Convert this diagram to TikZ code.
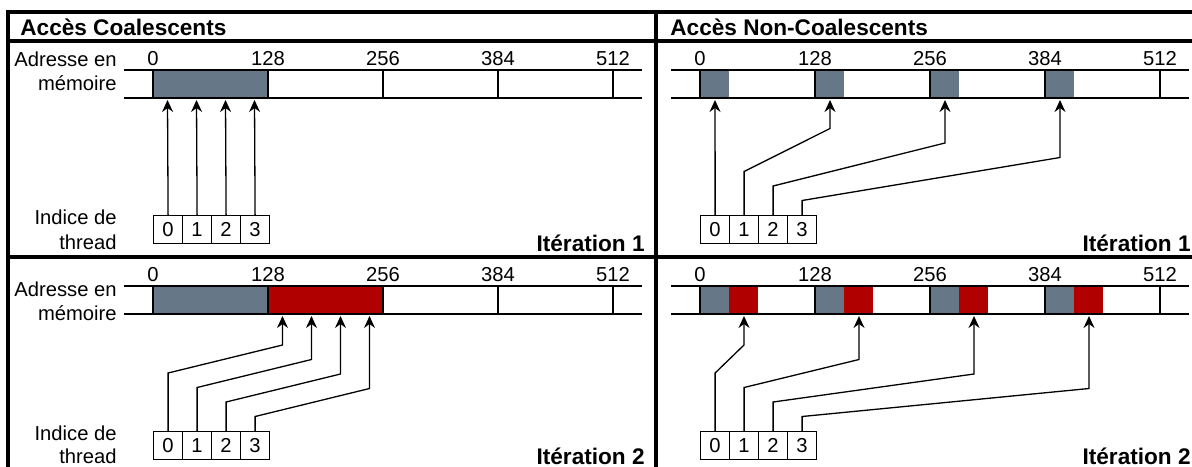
\documentclass[tikz,border=0pt]{standalone}
\usepackage{fontspec}
\setmainfont{Liberation Sans}
\usetikzlibrary{arrows.meta,calc}
\definecolor{ardoise}{HTML}{667788}
\definecolor{rouge}{HTML}{B00000}

\tikzset{
  cadre/.style={line width=1.6pt},
  trait/.style={line width=1.4pt},
  fleche/.style={line width=0.65pt, -{Stealth[length=6pt, width=5.5pt, inset=2pt]}},
  indice/.style={draw, line width=0.6pt, minimum width=14.5pt, minimum height=14pt, inner sep=0pt, anchor=north west},
  legende/.style={inner sep=0pt},
  titre/.style={inner sep=0pt, font=\fontsize{11.3}{13}\selectfont\bfseries},
}

\begin{document}
\begin{tikzpicture}[x=0.5pt, y=-0.5pt, every node/.style={font=\fontsize{10.1}{12}\selectfont}]
    \useasboundingbox (0,0) rectangle (1192,466);
    \clip (0,0) rectangle (1192,466);

    % Cadre
    \draw[cadre] (8,480) -- (8,12) -- (1200,12);
    \draw[cadre] (8,41) -- (1200,41);
    \draw[cadre] (8,257) -- (1200,257);
    \draw[cadre] (656,12) -- (656,480);

    % Titres
    \node[titre, anchor=base west] (titreC) at (20,35) {Accès Coalescents};
    \node[titre, anchor=base west] (titreN) at (670,35) {Accès Non-Coalescents};

    % Zones lues
    \fill[ardoise] (153,70) rectangle (268,98);
    \fill[ardoise] (153,286) rectangle (268,314);
    \fill[rouge] (268,286) rectangle (383,314);
    \foreach \k in {0,...,3} {
        \fill[ardoise] ({700+115*\k},70) rectangle ({729+115*\k},98);
        \fill[ardoise] ({700+115*\k},286) rectangle ({729+115*\k},314);
        \fill[rouge] ({729+115*\k},286) rectangle ({758+115*\k},314);
    }

    % Barres mémoire
    \foreach \dx in {0,547} {
        \foreach \dy in {0,216} {
            \begin{scope}[shift={(\dx,\dy)}]
                \draw[trait] (124,70) -- (642,70) (124,98) -- (642,98);
                \foreach \k/\adr in {0/0,1/128,2/256,3/384,4/512} {
                    \draw[trait] ({153+115*\k},70) -- ({153+115*\k},98);
                    \node[legende, anchor=base] at ({153+115*\k},65) {\adr};
                }
            \end{scope}
        }
    }

    % Légendes
    \node[legende, anchor=base east] (adrC1) at (117,66) {Adresse en};
    \node[legende, anchor=base east] (memC1) at (117,90) {mémoire};
    \node[legende, anchor=base east] (indC1) at (117,224) {Indice de};
    \node[legende, anchor=base east] (thrC1) at (117,249) {thread};
    \node[legende, anchor=base east] (adrC2) at (117,296) {Adresse en};
    \node[legende, anchor=base east] (memC2) at (117,320) {mémoire};
    \node[legende, anchor=base east] (indC2) at (117,440) {Indice de};
    \node[legende, anchor=base east] (thrC2) at (117,463) {thread};

    % Itérations
    \node[titre, anchor=base east] (itC1) at (645,251) {Itération 1};
    \node[titre, anchor=base east] (itN1) at (1191,251) {Itération 1};
    \node[titre, anchor=base east] (itC2) at (645,464) {Itération 2};
    \node[titre, anchor=base east] (itN2) at (1191,464) {Itération 2};

    % Threads et accès
    \foreach \i in {0,...,3} {
        % coalescents, itération 1
        \node[indice] (ca\i) at ({153+29*\i},215) {\i};
        \coordinate (ma\i) at ({167.5+29*\i},100);
        \draw[fleche] (ca\i.north) -- (ma\i);
        % coalescents, itération 2
        \node[indice] (cb\i) at ({153+29*\i},431) {\i};
        \coordinate (mb\i) at ({282.5+29*\i},316);
        \draw[fleche] (cb\i.north) -- ++(0,{-58+14.5*\i}) -- ($(mb\i)+(0,{29+14.5*\i})$) -- (mb\i);
        % non-coalescents, itération 1
        \node[indice] (na\i) at ({700+29*\i},215) {\i};
        \coordinate (pa\i) at ({715+115*\i},100);
        \draw[fleche] (na\i.north) -- ++(0,{-58+14.5*\i}) -- ($(pa\i)+(0,{14+14.5*\i})$) -- (pa\i);
        % non-coalescents, itération 2
        \node[indice] (nb\i) at ({700+29*\i},431) {\i};
        \coordinate (pb\i) at ({744+115*\i},316);
        \draw[fleche] (nb\i.north) -- ++(0,{-58+14.5*\i}) -- ($(pb\i)+(0,{29+14.5*\i})$) -- (pb\i);
    }
\end{tikzpicture}
\end{document}
